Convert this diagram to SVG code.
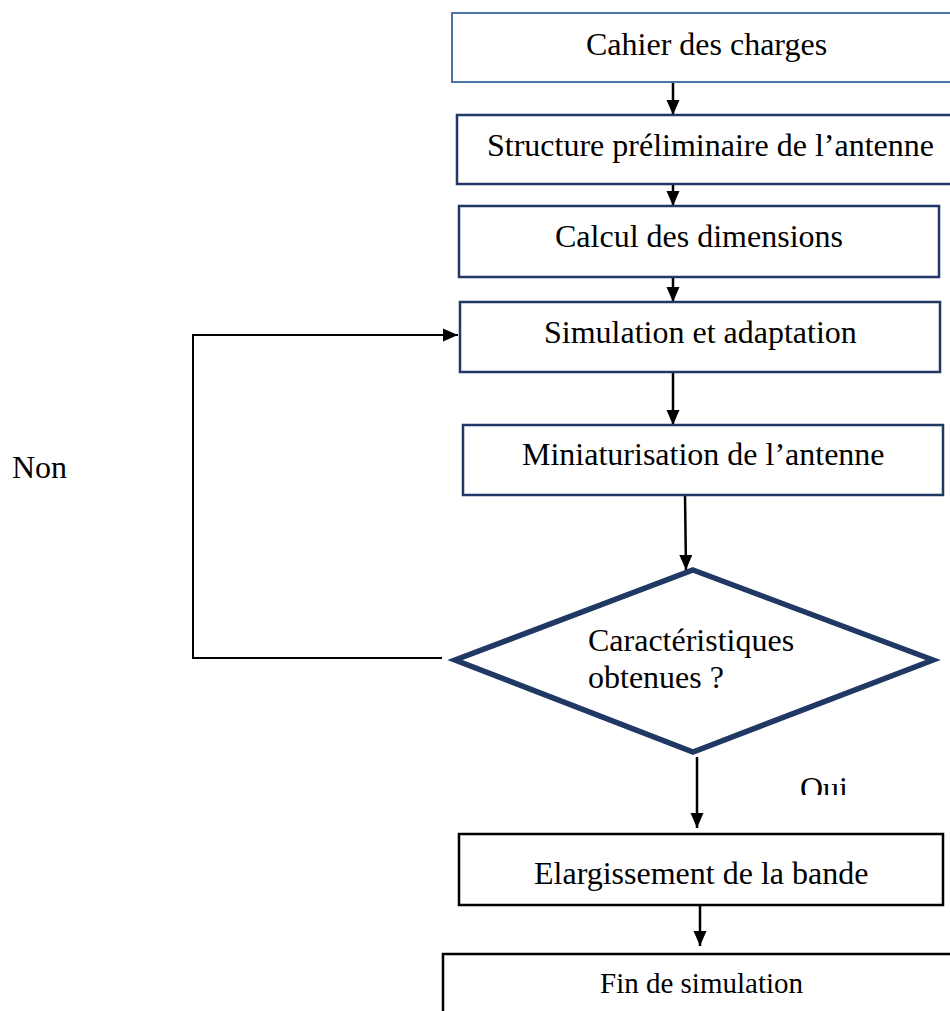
<svg xmlns="http://www.w3.org/2000/svg" width="950" height="1011" viewBox="0 0 950 1011">
<style>
text{font-family:"Liberation Serif","Times New Roman",serif;font-size:32px;fill:#000}
.bx{fill:#fff;stroke:#1f3864;stroke-width:2.5}
.bk{fill:#fff;stroke:#000;stroke-width:2.5}
.ln{fill:none;stroke:#000;stroke-width:2.5}
.lp{fill:none;stroke:#000;stroke-width:2}
</style>
<defs>
<marker id="ah" markerUnits="userSpaceOnUse" markerWidth="16" markerHeight="16" viewBox="0 0 16 16" refX="15" refY="8" orient="auto">
<path d="M0,1.5 L15,8 L0,14.5 Z" fill="#000"/>
</marker>
<clipPath id="ouiClip"><rect x="780" y="760" width="100" height="35"/></clipPath>
</defs>
<g id="connectors">
<line class="ln" x1="673" y1="83" x2="673" y2="115" marker-end="url(#ah)"/>
<line class="ln" x1="673" y1="184" x2="673" y2="206" marker-end="url(#ah)"/>
<line class="ln" x1="673" y1="277" x2="673" y2="302" marker-end="url(#ah)"/>
<line class="ln" x1="673" y1="372" x2="673" y2="425" marker-end="url(#ah)"/>
<line class="ln" x1="685" y1="495" x2="686" y2="570" marker-end="url(#ah)"/>
<line class="ln" x1="697" y1="757" x2="697" y2="828" marker-end="url(#ah)"/>
<line class="ln" x1="700" y1="905" x2="700" y2="946" marker-end="url(#ah)"/>
<polyline class="lp" points="442,658 193,658 193,335 458,335" marker-end="url(#ah)"/>
</g>
<g id="n1">
<rect x="452" y="13" width="510" height="69" fill="#fff" stroke="#4a74a8" stroke-width="2"/>
<text x="586" y="55">Cahier des charges</text>
</g>
<g id="n2">
<rect class="bx" x="457" y="115" width="510" height="69"/>
<text x="487" y="156">Structure préliminaire de l’antenne</text>
</g>
<g id="n3">
<rect class="bx" x="459" y="206" width="480" height="71"/>
<text x="555" y="247">Calcul des dimensions</text>
</g>
<g id="n4">
<rect class="bx" x="460" y="302" width="480" height="70"/>
<text x="544" y="343">Simulation et adaptation</text>
</g>
<g id="n5">
<rect class="bx" x="463" y="425" width="480" height="70"/>
<text x="522" y="465">Miniaturisation de l’antenne</text>
</g>
<g id="n6">
<polygon points="693,570 933,660 693,752 455,660" fill="#fff" stroke="#1f3864" stroke-width="5.5" stroke-linejoin="miter"/>
<text x="588" y="651">Caractéristiques</text>
<text x="588" y="688">obtenues ?</text>
</g>
<g id="n7">
<rect class="bk" x="459" y="834" width="484" height="71"/>
<text x="534" y="884">Elargissement de la bande</text>
</g>
<g id="n8">
<rect class="bk" x="443" y="954" width="520" height="70" stroke-width="2"/>
<text x="600" y="993" style="font-size:29px">Fin de simulation</text>
</g>
<g id="labels">
<text x="12" y="478">Non</text>
<text x="800" y="799" clip-path="url(#ouiClip)">Oui</text>
</g>
</svg>
